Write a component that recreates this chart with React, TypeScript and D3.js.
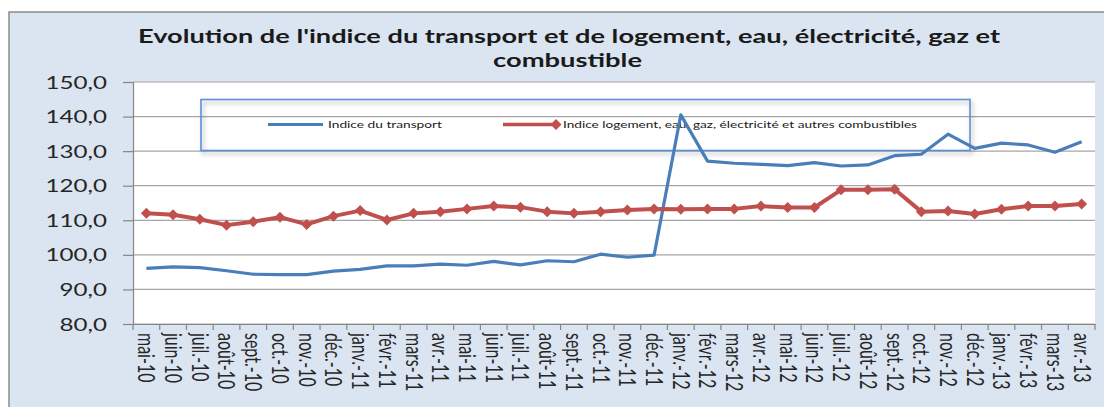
import React, { useRef, useEffect } from "react";
import * as d3 from "d3";

const months = [
  "mai-10", "juin-10", "juil.-10", "août-10", "sept.-10", "oct.-10", "nov.-10", "déc.-10",
  "janv.-11", "févr.-11", "mars-11", "avr.-11", "mai-11", "juin-11", "juil.-11", "août-11",
  "sept.-11", "oct.-11", "nov.-11", "déc.-11", "janv.-12", "févr.-12", "mars-12", "avr.-12",
  "mai-12", "juin-12", "juil.-12", "août-12", "sept.-12", "oct.-12", "nov.-12", "déc.-12",
  "janv.-13", "févr.-13", "mars-13", "avr.-13",
];

const transport = [
  96.1, 96.5, 96.3, 95.4, 94.4, 94.3, 94.3, 95.3, 95.8, 96.8,
  96.8, 97.3, 97.0, 98.1, 97.1, 98.3, 98.0, 100.2, 99.3, 99.9,
  140.5, 127.1, 126.5, 126.2, 125.8, 126.7, 125.7, 126.0, 128.7, 129.1,
  134.9, 130.8, 132.3, 131.8, 129.7, 132.7,
];

const logement = [
  112.0, 111.6, 110.3, 108.6, 109.6, 110.9, 108.8, 111.2, 112.8, 110.1,
  112.0, 112.5, 113.3, 114.1, 113.8, 112.5, 112.0, 112.5, 113.0, 113.3,
  113.2, 113.3, 113.3, 114.1, 113.7, 113.7, 118.8, 118.8, 119.0, 112.5,
  112.7, 111.8, 113.2, 114.1, 114.1, 114.7,
];

const yTicks = [80, 90, 100, 110, 120, 130, 140, 150];

const titleLines = [
  "Evolution de l'indice du transport et de logement, eau, électricité, gaz et",
  "combustible",
];
const seriesNames = [
  "Indice du transport",
  "Indice logement, eau, gaz, électricité et autres combustibles",
];

const BLUE = "#4a7ebb";
const RED = "#c0504d";
const FONT = "Lato, 'Open Sans', sans-serif";

const W = 1104;
const H = 407;
const plot = { left: 133, right: 1095, top: 82, bottom: 324 };

const diamond = "M0,-5.5L5.5,0L0,5.5L-5.5,0Z";

export default function App() {
  const ref = useRef<SVGSVGElement>(null);

  useEffect(() => {
    const svg = d3.select(ref.current);
    svg.selectAll("*").remove();

    const x = d3.scaleBand().domain(months).range([plot.left, plot.right]).padding(0);
    const y = d3.scaleLinear().domain([80, 150]).range([plot.bottom, plot.top]);
    const cx = (i: number) => (x(months[i]) as number) + x.bandwidth() / 2;

    const defs = svg.append("defs");
    const f = defs.append("filter").attr("id", "shadow").attr("x", "-5%").attr("y", "-30%")
      .attr("width", "110%").attr("height", "160%");
    f.append("feDropShadow").attr("dx", 2).attr("dy", 3).attr("stdDeviation", 2)
      .attr("flood-color", "#000").attr("flood-opacity", 0.3);

    svg.append("rect").attr("width", W).attr("height", H).attr("fill", "#fff");
    svg.append("rect")
      .attr("x", 9).attr("y", 12).attr("width", 1200).attr("height", 500)
      .attr("fill", "#dbe5f1").attr("stroke", "#8c8c8c").attr("stroke-width", 1.5);

    // title
    const title = svg.append("g").attr("font-family", FONT).attr("font-weight", 700)
      .attr("font-size", 18).attr("fill", "#1a1a1a");
    title.append("text").attr("x", 138).attr("y", 43).attr("textLength", 862)
      .attr("lengthAdjust", "spacingAndGlyphs").text(titleLines[0]);
    title.append("text").attr("x", 493).attr("y", 67).attr("textLength", 149)
      .attr("lengthAdjust", "spacingAndGlyphs").text(titleLines[1]);

    // plot area
    svg.append("rect")
      .attr("x", plot.left).attr("y", plot.top)
      .attr("width", plot.right - plot.left).attr("height", plot.bottom - plot.top)
      .attr("fill", "#fff");

    svg.append("g").selectAll("line").data(yTicks).join("line")
      .attr("x1", plot.left).attr("x2", plot.right)
      .attr("y1", (d) => y(d)).attr("y2", (d) => y(d))
      .attr("stroke", "#a6a6a6").attr("stroke-width", 1.2);

    // y axis
    const yAxis = svg.append("g").attr("transform", `translate(${plot.left},0)`)
      .call(
        d3.axisLeft(y).tickValues(yTicks).tickSize(10).tickPadding(0)
          .tickFormat((d) => d3.format(".1f")(d as number).replace(".", ","))
      );
    yAxis.select(".domain").attr("stroke", "#868686").attr("stroke-width", 1.2);
    yAxis.selectAll(".tick line").attr("stroke", "#868686").attr("stroke-width", 1.2);
    yAxis.selectAll(".tick text")
      .attr("font-family", FONT).attr("font-size", 17).attr("fill", "#262626")
      .attr("x", -18.3).attr("dy", "0.36em")
      .attr("transform", "scale(1.42,1)");

    // x axis
    const xAxis = svg.append("g").attr("transform", `translate(0,${plot.bottom})`)
      .call(d3.axisBottom(x).tickSize(0).tickFormat(() => ""));
    xAxis.select(".domain").attr("stroke", "#868686").attr("stroke-width", 1.2);
    xAxis.selectAll(".tick").remove();
    xAxis.selectAll("line.sep").data(months).join("line").attr("class", "sep")
      .attr("x1", (d) => x(d) as number).attr("x2", (d) => x(d) as number)
      .attr("y1", 0).attr("y2", 6)
      .attr("stroke", "#868686").attr("stroke-width", 1.2);
    xAxis.append("line")
      .attr("x1", plot.right).attr("x2", plot.right).attr("y1", 0).attr("y2", 6)
      .attr("stroke", "#868686").attr("stroke-width", 1.2);

    svg.append("g").selectAll("text").data(months).join("text")
      .attr("transform", (d, i) => `translate(${cx(i)},${plot.bottom + 9}) rotate(90) scale(1,1.4)`)
      .attr("dy", "0.36em")
      .attr("font-family", FONT).attr("font-size", 16).attr("fill", "#262626")
      .text((d) => d);

    // legend
    const lg = svg.append("g");
    lg.append("rect")
      .attr("x", 201).attr("y", 99.5).attr("width", 769).attr("height", 51)
      .attr("fill", "none").attr("stroke", "#5b8fd6").attr("stroke-width", 1.6)
      .attr("filter", "url(#shadow)");
    lg.append("line").attr("x1", 268).attr("x2", 323).attr("y1", 124.5).attr("y2", 124.5)
      .attr("stroke", BLUE).attr("stroke-width", 3);
    lg.append("text").attr("x", 328).attr("y", 127.5).attr("font-family", FONT)
      .attr("font-size", 9.5).attr("fill", "#1a1a1a").attr("textLength", 114)
      .attr("lengthAdjust", "spacingAndGlyphs").text(seriesNames[0]);
    lg.append("line").attr("x1", 503).attr("x2", 558).attr("y1", 124.5).attr("y2", 124.5)
      .attr("stroke", RED).attr("stroke-width", 3.5);
    lg.append("path").attr("d", diamond).attr("transform", "translate(556,124.5)").attr("fill", RED);
    lg.append("text").attr("x", 563).attr("y", 127.5).attr("font-family", FONT)
      .attr("font-size", 9.5).attr("fill", "#1a1a1a").attr("textLength", 354)
      .attr("lengthAdjust", "spacingAndGlyphs").text(seriesNames[1]);

    // series
    const line = d3.line<number>().x((d, i) => cx(i)).y((d) => y(d));
    svg.append("path").datum(transport).attr("d", line)
      .attr("fill", "none").attr("stroke", BLUE).attr("stroke-width", 3.2)
      .attr("stroke-linejoin", "round");
    svg.append("path").datum(logement).attr("d", line)
      .attr("fill", "none").attr("stroke", RED).attr("stroke-width", 4)
      .attr("stroke-linejoin", "round");
    svg.append("g").selectAll("path").data(logement).join("path")
      .attr("d", diamond)
      .attr("transform", (d, i) => `translate(${cx(i)},${y(d)})`)
      .attr("fill", RED);
  }, []);

  return (
    <svg
      ref={ref}
      width={W}
      height={H}
      style={{ position: "absolute", left: 0, top: 0, display: "block" }}
    />
  );
}
